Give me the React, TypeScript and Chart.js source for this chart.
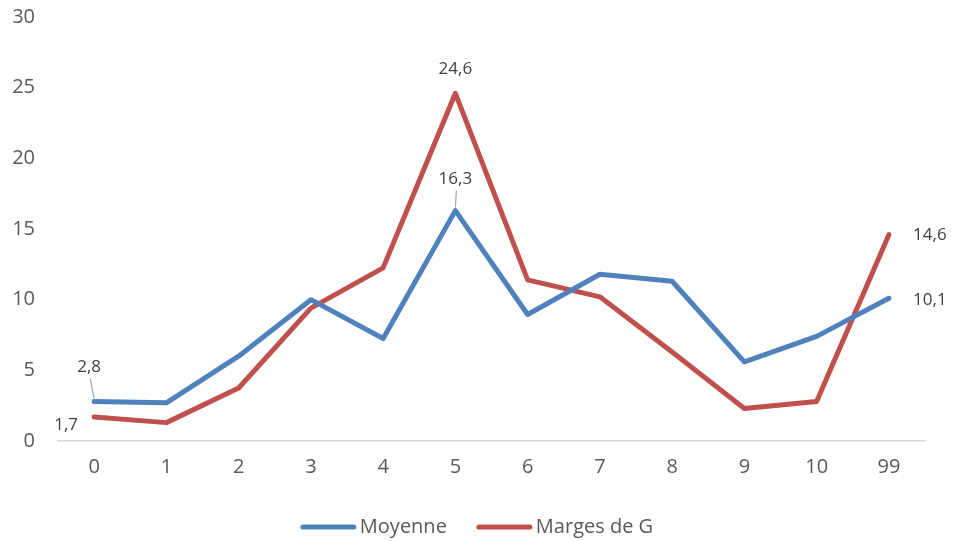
import React, { useEffect, useRef } from "react";
import { Chart, registerables } from "chart.js";

Chart.register(...registerables);

const categories = ["0", "1", "2", "3", "4", "5", "6", "7", "8", "9", "10", "99"];
const moyenne = [2.8, 2.7, 6.0, 10.0, 7.25, 16.3, 8.95, 11.8, 11.3, 5.6, 7.4, 10.1];
const marges = [1.7, 1.3, 3.75, 9.4, 12.25, 24.6, 11.4, 10.2, 6.3, 2.3, 2.8, 14.6];
const yMin = 0;
const yMax = 30;
const yStep = 5;
const seriesNames = ["Moyenne", "Marges de G"];
const seriesColors = ["#4F81BD", "#C0504D"];
const labeledIndices = [
  [0, 5, 11],
  [0, 5, 11],
];

const FONT = "'Open Sans', 'DejaVu Sans', sans-serif";

// label placement relative to point (style only)
const placement: Record<string, { dx: number; dy: number; leader?: boolean }> = {
  "0-0": { dx: -5, dy: -34, leader: true },
  "0-5": { dx: 0, dy: -31, leader: true },
  "0-11": { dx: 41, dy: 2 },
  "1-0": { dx: -28, dy: 8 },
  "1-5": { dx: 0, dy: -24 },
  "1-11": { dx: 41, dy: 1 },
};

const fmt = (v: number) => v.toFixed(1).replace(".", ",");

const dataLabelPlugin = {
  id: "dataLabels",
  afterDatasetsDraw(chart: any) {
    const ctx = chart.ctx;
    ctx.save();
    ctx.font = `17px ${FONT}`;
    ctx.fillStyle = "#404040";
    ctx.textAlign = "center";
    ctx.textBaseline = "middle";
    chart.data.datasets.forEach((ds: any, di: number) => {
      const meta = chart.getDatasetMeta(di);
      labeledIndices[di].forEach((i) => {
        const pt = meta.data[i];
        const p = placement[`${di}-${i}`] || { dx: 0, dy: -20 };
        const lx = pt.x + p.dx;
        const ly = pt.y + p.dy;
        if (p.leader) {
          ctx.strokeStyle = "#a6a6a6";
          ctx.lineWidth = 1.2;
          ctx.beginPath();
          ctx.moveTo(lx + 1, ly + 11);
          ctx.lineTo(pt.x, pt.y - 3);
          ctx.stroke();
        }
        ctx.fillText(fmt(ds.data[i]), lx, ly);
      });
    });
    ctx.restore();
  },
};

const legendPlugin = {
  id: "customLegend",
  afterDraw(chart: any) {
    const ctx = chart.ctx;
    ctx.save();
    ctx.font = `20px ${FONT}`;
    const lineLen = 55;
    const textGap = 4;
    const itemGap = 30;
    const widths = chart.data.datasets.map(
      (ds: any) => lineLen + textGap + ctx.measureText(ds.label).width
    );
    const total = widths.reduce((a: number, b: number) => a + b, 0) + itemGap * (widths.length - 1);
    let x = chart.width / 2 - 4 - total / 2;
    const y = 527;
    chart.data.datasets.forEach((ds: any, i: number) => {
      ctx.strokeStyle = ds.borderColor;
      ctx.lineWidth = 5;
      ctx.lineCap = "round";
      ctx.beginPath();
      ctx.moveTo(x + 2, y);
      ctx.lineTo(x + lineLen - 2, y);
      ctx.stroke();
      ctx.fillStyle = "#595959";
      ctx.textAlign = "left";
      ctx.textBaseline = "middle";
      ctx.fillText(ds.label, x + lineLen + textGap, y);
      x += widths[i] + itemGap;
    });
    ctx.restore();
  },
};

export default function App() {
  const ref = useRef<HTMLCanvasElement>(null);
  useEffect(() => {
    if (!ref.current) return;
    const chart = new Chart(ref.current, {
      type: "line",
      data: {
        labels: categories,
        datasets: [
          {
            label: seriesNames[0],
            data: moyenne,
            borderColor: seriesColors[0],
            backgroundColor: seriesColors[0],
            borderWidth: 5,
            pointRadius: 0,
            tension: 0,
            borderCapStyle: "round",
            borderJoinStyle: "round",
          },
          {
            label: seriesNames[1],
            data: marges,
            borderColor: seriesColors[1],
            backgroundColor: seriesColors[1],
            borderWidth: 5,
            pointRadius: 0,
            tension: 0,
            borderCapStyle: "round",
            borderJoinStyle: "round",
          },
        ],
      },
      options: {
        responsive: false,
        animation: false,
        layout: { padding: { top: 17, right: 37, bottom: 60, left: 0 } },
        plugins: {
          legend: { display: false },
          tooltip: { enabled: false },
        },
        scales: {
          x: {
            offset: true,
            grid: { display: false, drawTicks: false },
            border: { display: true, color: "#d9d9d9", width: 1.5 },
            ticks: {
              font: { family: FONT, size: 20 },
              color: "#595959",
              padding: 14,
              maxRotation: 0,
            },
            afterFit(scale: any) {
              scale.height = 40;
              scale.paddingLeft = 0;
              scale.paddingRight = 0;
            },
          },
          y: {
            min: yMin,
            max: yMax,
            grid: { display: false, drawTicks: false },
            border: { display: false },
            ticks: {
              stepSize: yStep,
              font: { family: FONT, size: 20 },
              color: "#595959",
              padding: 23,
            },
            afterFit(scale: any) {
              scale.width = 58;
              scale.paddingTop = 0;
              scale.paddingBottom = 0;
            },
          },
        },
      },
      plugins: [dataLabelPlugin, legendPlugin],
    });
    return () => chart.destroy();
  }, []);
  return (
    <div style={{ position: "fixed", left: 0, top: 0, width: 962, height: 541, background: "#fff" }}>
      <canvas ref={ref} width={962} height={541} style={{ display: "block" }} />
    </div>
  );
}
